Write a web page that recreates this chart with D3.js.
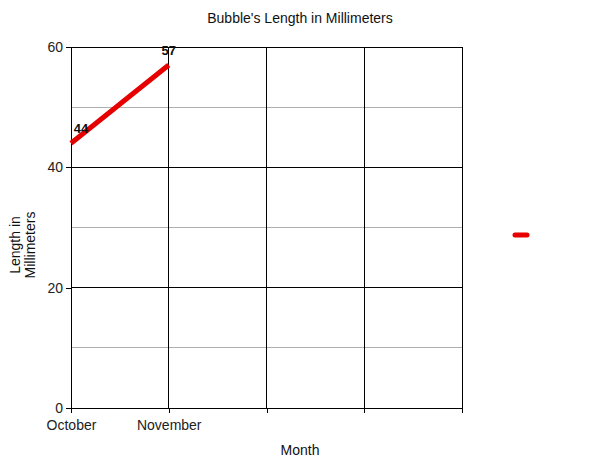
<!DOCTYPE html>
<html>
<head>
<meta charset="utf-8">
<script src="https://cdn.jsdelivr.net/npm/d3@7"></script>
<style>
  body { margin: 0; background: #fff; }
  text { font-family: "Liberation Sans", Arial, sans-serif; }
</style>
</head>
<body>
<svg id="chart" width="600" height="463"></svg>
<script>
// data
const months = ['October', 'November', '', '', ''];
const lengths = [44, 57];
const yTicks = [0, 20, 40, 60];
const yMinor = [10, 30, 50];

const margin = { left: 71, right: 138, top: 47, bottom: 55 };
const width = 600, height = 463;

const svg = d3.select('#chart');

const x = d3.scalePoint()
  .domain(months.map((m, i) => i))
  .range([margin.left, width - margin.right]);

const y = d3.scaleLinear()
  .domain([0, 60])
  .range([height - margin.bottom, margin.top]);

// minor gridlines (gray)
svg.append('g')
  .selectAll('line')
  .data(yMinor)
  .join('line')
  .attr('x1', margin.left)
  .attr('x2', width - margin.right)
  .attr('y1', d => y(d))
  .attr('y2', d => y(d))
  .attr('stroke', '#b0b0b0')
  .attr('stroke-width', 1)
  .attr('shape-rendering', 'crispEdges');

// major gridlines (black)
svg.append('g')
  .selectAll('line')
  .data(yTicks)
  .join('line')
  .attr('x1', margin.left)
  .attr('x2', width - margin.right)
  .attr('y1', d => y(d))
  .attr('y2', d => y(d))
  .attr('stroke', '#000')
  .attr('shape-rendering', 'crispEdges');

svg.append('g')
  .selectAll('line')
  .data(months.map((m, i) => i))
  .join('line')
  .attr('x1', d => x(d))
  .attr('x2', d => x(d))
  .attr('y1', margin.top)
  .attr('y2', height - margin.bottom)
  .attr('stroke', '#000')
  .attr('shape-rendering', 'crispEdges');

// y axis
const yAxis = svg.append('g')
  .attr('transform', `translate(${margin.left},0)`)
  .call(d3.axisLeft(y).tickValues(yTicks).tickSize(5).tickPadding(3));
yAxis.select('.domain').remove();
yAxis.selectAll('line').attr('shape-rendering', 'crispEdges');
yAxis.selectAll('text').attr('font-size', 14).attr('fill', '#222')
  .attr('font-family', '"Liberation Sans", Arial, sans-serif');

// x axis
const xAxis = svg.append('g')
  .attr('transform', `translate(0,${height - margin.bottom})`)
  .call(d3.axisBottom(x).tickSize(5).tickPadding(7).tickFormat(i => months[i]));
xAxis.select('.domain').remove();
xAxis.selectAll('line').attr('shape-rendering', 'crispEdges');
xAxis.selectAll('text').attr('font-size', 14).attr('fill', '#222')
  .attr('font-family', '"Liberation Sans", Arial, sans-serif');

// the series line
const line = d3.line()
  .x((d, i) => x(i))
  .y(d => y(d));

svg.append('path')
  .datum(lengths)
  .attr('d', line)
  .attr('fill', 'none')
  .attr('stroke', '#e60000')
  .attr('stroke-width', 5);

// value labels
svg.append('g')
  .selectAll('text')
  .data(lengths)
  .join('text')
  .attr('x', (d, i) => Math.max(x(i), margin.left + 10))
  .attr('y', d => y(d) - 10)
  .attr('text-anchor', 'middle')
  .attr('font-size', 13)
  .attr('font-weight', 'bold')
  .attr('fill', '#111')
  .text(d => d);

// legend swatch
svg.append('line')
  .attr('x1', 515)
  .attr('x2', 527)
  .attr('y1', 235)
  .attr('y2', 235)
  .attr('stroke', '#e60000')
  .attr('stroke-width', 5)
  .attr('stroke-linecap', 'round');

// title
svg.append('text')
  .attr('x', 300)
  .attr('y', 23)
  .attr('text-anchor', 'middle')
  .attr('font-size', 14)
  .attr('fill', '#111')
  .text("Bubble's Length in Millimeters");

// axis titles
svg.append('text')
  .attr('x', 300)
  .attr('y', 455)
  .attr('text-anchor', 'middle')
  .attr('font-size', 14)
  .attr('fill', '#111')
  .text('Month');

const yTitle = svg.append('text')
  .attr('transform', 'translate(20,245) rotate(-90)')
  .attr('text-anchor', 'middle')
  .attr('font-size', 14)
  .attr('fill', '#111');
yTitle.append('tspan').attr('x', 0).attr('dy', 0).text('Length in');
yTitle.append('tspan').attr('x', 0).attr('dy', 15).text('Millimeters');
</script>
</body>
</html>
